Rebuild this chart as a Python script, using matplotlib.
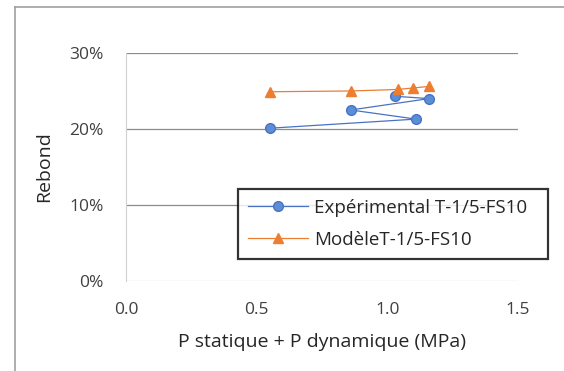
import matplotlib.pyplot as plt
from matplotlib.lines import Line2D
from matplotlib.ticker import FuncFormatter

# data
exp_p = [0.55, 1.11, 0.86, 1.16, 1.03]
exp_rebond = [0.201, 0.213, 0.225, 0.240, 0.243]
mod_p = [0.55, 0.86, 1.04, 1.10, 1.16]
mod_rebond = [0.249, 0.250, 0.252, 0.254, 0.256]

label_exp = "Expérimental T-1/5-FS10"
label_mod = "ModèleT-1/5-FS10"

plt.rcParams["font.family"] = ["Open Sans", "DejaVu Sans"]

fig = plt.figure(figsize=(5.64, 3.71), dpi=100)
ax = fig.add_axes([0.2234, 0.2426, 0.6950, 0.6146])

for y in [0.1, 0.2, 0.3]:
    ax.axhline(y, color="#8c8c8c", linewidth=0.9, zorder=1)
ax.axhline(0.0, color="#d0d0d0", linewidth=0.9, zorder=1)

ax.plot(exp_p, exp_rebond, "-", color="#4a72c4", linewidth=0.9, zorder=3)
ax.plot(exp_p, exp_rebond, "o", color="#5b8fd5", markeredgecolor="#4a72c4",
        markersize=7, zorder=4)
ax.plot(mod_p, mod_rebond, "-", color="#ed7d31", linewidth=0.9, zorder=3)
ax.plot(mod_p, mod_rebond, "^", color="#ed7d31", markersize=7.5, zorder=4)

ax.set_xlim(0, 1.5)
ax.set_ylim(0, 0.3)
ax.set_xticks([0.0, 0.5, 1.0, 1.5])
ax.set_yticks([0.0, 0.1, 0.2, 0.3])
ax.xaxis.set_major_formatter(FuncFormatter(lambda v, _: f"{v:.1f}"))
ax.yaxis.set_major_formatter(FuncFormatter(lambda v, _: f"{v * 100:.0f}%"))
ax.tick_params(length=0, labelsize=12.5, colors="#404040")
ax.tick_params(axis="x", pad=15)
ax.tick_params(axis="y", pad=16)
for s in ["top", "right", "bottom"]:
    ax.spines[s].set_visible(False)
ax.spines["left"].set_color("#d0d0d0")
ax.set_xlabel("P statique + P dynamique (MPa)", fontsize=14, color="#262626", labelpad=11)
ax.set_ylabel("Rebond", fontsize=14, color="#262626", labelpad=12)

handles = [
    Line2D([], [], color="#4a72c4", linewidth=0.9, marker="o",
           markerfacecolor="#5b8fd5", markeredgecolor="#4a72c4", markersize=7),
    Line2D([], [], color="#ed7d31", linewidth=0.9, marker="^", markersize=7.5),
]
leg = ax.legend(handles, [label_exp, label_mod], loc="center",
                bbox_to_anchor=(0.286, 0.092, 0.791, 0.316), mode="expand",
                borderaxespad=0, frameon=True, fancybox=False,
                fontsize=13.5, handlelength=3.2, borderpad=0.55,
                labelspacing=0.75, handletextpad=0.3)
leg.get_frame().set_edgecolor("black")
leg.get_frame().set_linewidth(1.6)
for t in leg.get_texts():
    t.set_color("#262626")

# outer chart frame (top and left edges)
fig.add_artist(Line2D([15 / 564, 1.0], [1 - 7 / 371, 1 - 7 / 371],
                      color="#a0a0a0", linewidth=1.2))
fig.add_artist(Line2D([15 / 564, 15 / 564], [0.0, 1 - 7 / 371],
                      color="#a0a0a0", linewidth=1.2))

fig.savefig("out.png", dpi=100)
